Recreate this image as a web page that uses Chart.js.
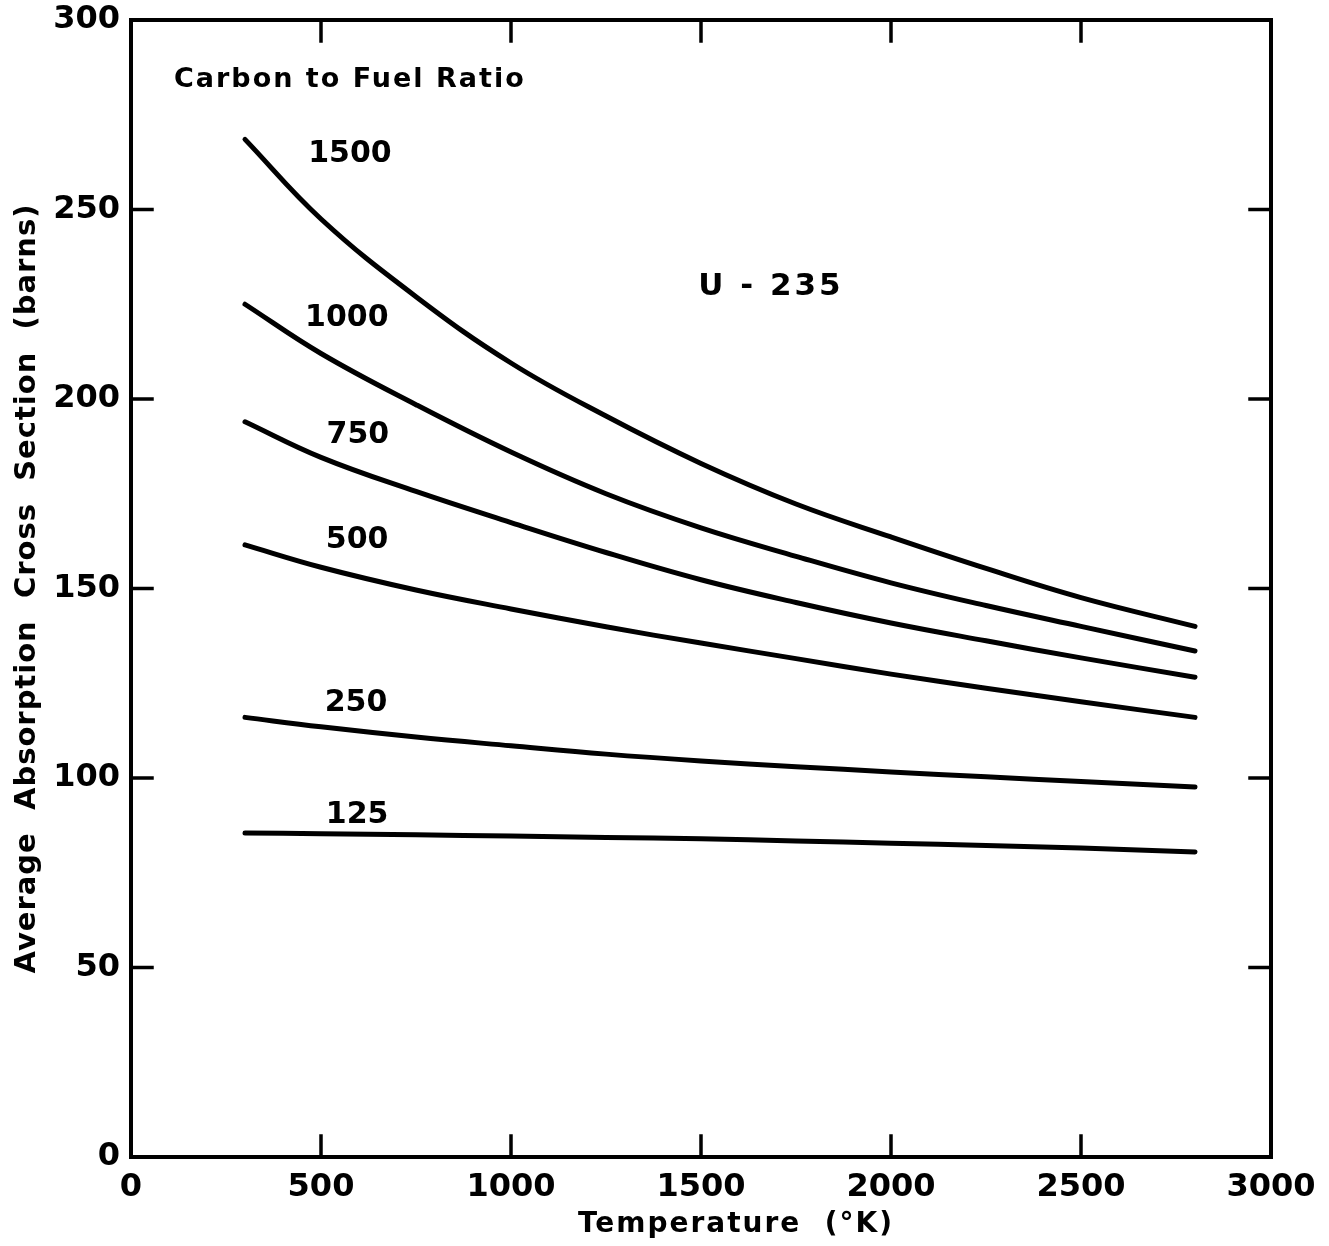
<html>
<head>
    <script src="https://cdn.jsdelivr.net/npm/chart.js@4.4.0/dist/chart.umd.min.js"></script>
    <style>
        body { margin: 0; background: #fff; }
    </style>
</head>
<body>

<canvas id="myChart" width="1329" height="1246"></canvas>

<script>
    // temperature (deg K) where each curve was read
    const temps = [300, 500, 750, 1000, 1250, 1500, 1750, 2000, 2250, 2500, 2800];

    // average absorption cross section (barns), one array per carbon to fuel ratio
    const ratio1500 = [268.5, 247.5, 227, 209.5, 195.5, 183, 172.3, 163.6, 155.3, 147.6, 140];
    const ratio1000 = [225, 212, 198.5, 186, 175, 166, 158.5, 151.5, 145.5, 140, 133.5];
    const ratio750 = [194, 184.6, 175.6, 167.4, 159.5, 152.3, 146.3, 140.9, 136.2, 131.7, 126.6];
    const ratio500 = [161.5, 155.6, 149.6, 144.6, 139.9, 135.6, 131.5, 127.4, 123.7, 120.1, 116];
    const ratio250 = [116, 113.5, 110.8, 108.5, 106.3, 104.5, 103, 101.6, 100.3, 99.1, 97.6];
    const ratio125 = [85.5, 85.3, 85, 84.7, 84.3, 84, 83.4, 82.8, 82.2, 81.5, 80.5];

    const ratioNames = ['1500', '1000', '750', '500', '250', '125'];
    const ratioSeries = [ratio1500, ratio1000, ratio750, ratio500, ratio250, ratio125];

    // where each ratio name sits, in data units
    const labelX = [576, 568, 597, 595, 592, 595];
    const labelY = [264.6, 221.4, 190.5, 162.8, 119.8, 90.2];

    const xTicks = [0, 500, 1000, 1500, 2000, 2500, 3000];
    const yTicks = [0, 50, 100, 150, 200, 250, 300];

    const FONT = "'DejaVu Sans', sans-serif";

    // box round the plot with short ticks pointing inward, plus the text notes
    const framePlugin = {
        id: 'frame',
        afterDraw(chart) {
            const ctx = chart.ctx;
            const a = chart.chartArea;
            const xs = chart.scales.x;
            const ys = chart.scales.y;
            ctx.save();
            ctx.strokeStyle = '#000';
            ctx.lineWidth = 4;
            ctx.lineCap = 'square';
            ctx.strokeRect(a.left, a.top, a.right - a.left, a.bottom - a.top);

            ctx.lineWidth = 3.5;
            ctx.beginPath();
            xTicks.slice(1, -1).forEach(v => {
                const px = xs.getPixelForValue(v);
                ctx.moveTo(px, a.bottom); ctx.lineTo(px, a.bottom - 21);
                ctx.moveTo(px, a.top); ctx.lineTo(px, a.top + 21);
            });
            yTicks.slice(1, -1).forEach(v => {
                const py = ys.getPixelForValue(v);
                ctx.moveTo(a.left, py); ctx.lineTo(a.left + 21, py);
                ctx.moveTo(a.right, py); ctx.lineTo(a.right - 21, py);
            });
            ctx.stroke();

            ctx.fillStyle = '#000';
            ctx.textAlign = 'center';
            ctx.textBaseline = 'middle';

            // curve names
            ctx.font = 'bold 30px ' + FONT;
            ratioNames.forEach((name, i) => {
                ctx.fillText(name, xs.getPixelForValue(labelX[i]), ys.getPixelForValue(labelY[i]));
            });

            ctx.font = 'bold 31px ' + FONT;
            ctx.letterSpacing = '3px';
            ctx.fillText('U - 235', xs.getPixelForValue(1684), ys.getPixelForValue(229.6));

            ctx.font = 'bold 27px ' + FONT;
            ctx.letterSpacing = '2px';
            ctx.fillText('Carbon to Fuel Ratio', xs.getPixelForValue(576), ys.getPixelForValue(284.2));

            // axis titles
            ctx.font = 'bold 28px ' + FONT;
            ctx.letterSpacing = '2px';
            ctx.fillText('Temperature  (°K)', 736, 1225);

            ctx.save();
            ctx.translate(27, (a.top + a.bottom) / 2);
            ctx.rotate(-Math.PI / 2);
            ctx.font = 'bold 29px ' + FONT;
            ctx.letterSpacing = '1px';
            ctx.fillText('Average  Absorption  Cross  Section  (barns)', 0, 0);
            ctx.restore();

            ctx.restore();
        }
    };

    const datasets = ratioSeries.map((vals, i) => ({
        label: ratioNames[i],
        data: temps.map((t, j) => ({ x: t, y: vals[j] })),
        borderColor: '#000',
        borderWidth: 5,
        borderCapStyle: 'round',
        pointRadius: 0,
        tension: 0.4,
        fill: false
    }));

    const ctx = document.getElementById('myChart').getContext('2d');
    const myChart = new Chart(ctx, {
        type: 'line',
        data: { datasets: datasets },
        options: {
            responsive: false,
            animation: false,
            layout: { padding: { left: 0, top: 20, right: 58, bottom: 0 } },
            plugins: {
                legend: { display: false },
                tooltip: { enabled: false }
            },
            scales: {
                x: {
                    type: 'linear',
                    min: 0,
                    max: 3000,
                    afterFit: s => {
                        s.height = 89;
                        s.paddingLeft = 0;
                        s.paddingRight = 0;
                    },
                    grid: { display: false, drawTicks: false },
                    border: { display: false },
                    ticks: {
                        stepSize: 500,
                        padding: 11,
                        color: '#000',
                        font: { family: FONT, size: 32, weight: 'bold' },
                        callback: v => xTicks.includes(v) ? String(v) : ''
                    }
                },
                y: {
                    min: 0,
                    max: 300,
                    afterFit: s => {
                        s.width = 131;
                        s.paddingTop = 0;
                        s.paddingBottom = 0;
                    },
                    grid: { display: false, drawTicks: false },
                    border: { display: false },
                    ticks: {
                        stepSize: 50,
                        padding: 11,
                        color: '#000',
                        font: { family: FONT, size: 32, weight: 'bold' },
                        callback: v => yTicks.includes(v) ? String(v) : ''
                    }
                }
            }
        },
        plugins: [framePlugin]
    });
</script>
</body>
</html>
